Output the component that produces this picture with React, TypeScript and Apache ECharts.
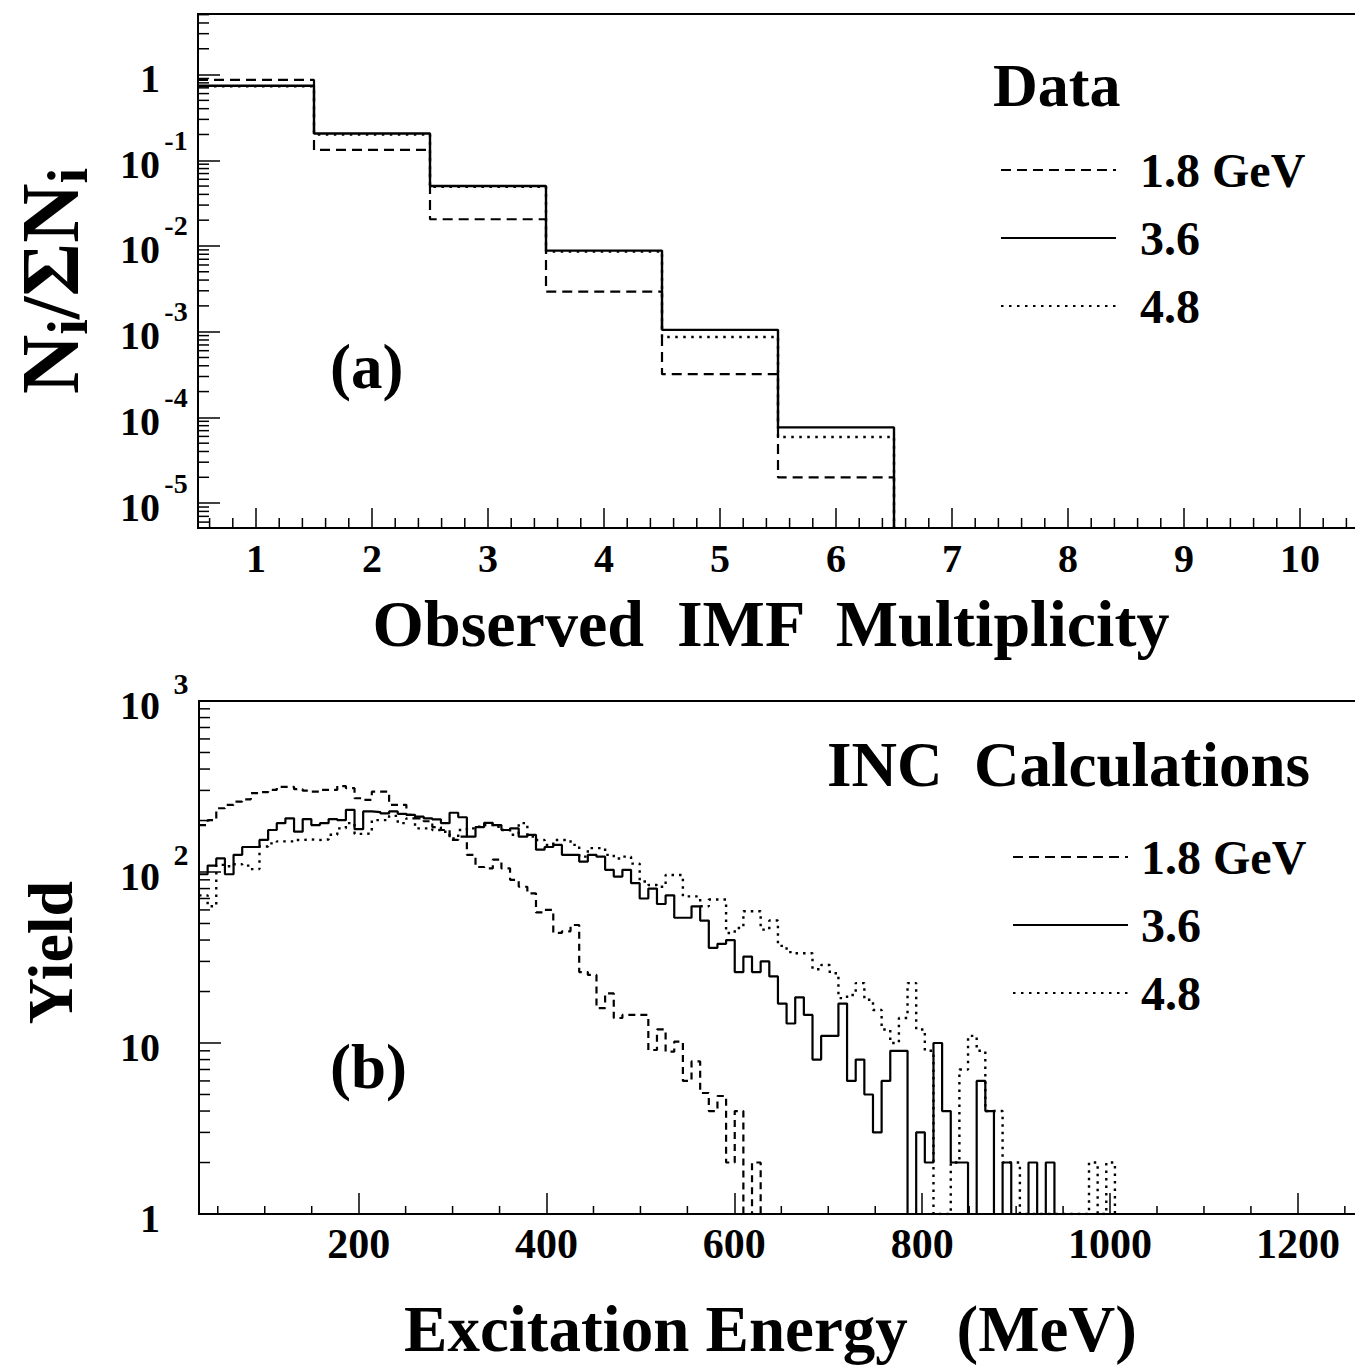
import React, { useEffect, useRef } from "react";
import * as echarts from "echarts";

const FONT = '"Liberation Serif", "Times New Roman", serif';

// ---------------- Panel (a): observed IMF multiplicity (data) ----------------
const imfMultiplicity = [1, 2, 3, 4, 5, 6, 7, 8, 9, 10];
const dataFrac18 = [0.866, 0.132, 0.0205, 0.00293, 3.19e-4, 2.0e-5, 0, 0, 0, 0];
const dataFrac36 = [0.74, 0.205, 0.05, 0.00883, 0.00105, 7.64e-5, 0, 0, 0, 0];
const dataFrac48 = [0.73, 0.2, 0.049, 0.0086, 8.66e-4, 5.9e-5, 0, 0, 0, 0];

// ---------------- Panel (b): INC calculations, excitation energy ----------------
const energyBinLow = 30; // MeV, lower edge of first bin
const energyBinWidth = 9.2; // MeV
const incYield18 = [
  188, 201, 236, 247, 258, 266, 289, 293, 302, 315,
  315, 305, 299, 295, 302, 302, 318, 309, 270, 264,
  295, 295, 247, 247, 216, 206, 198, 183, 176, 154,
  161, 126, 107, 105, 118, 105, 90, 82, 75, 58,
  60, 44, 45, 49, 26, 25, 16, 19.5, 14, 14.6,
  14.6, 14.6, 9.1, 12, 8.9, 10.2, 6, 7.8, 5.1, 4,
  4.9, 2, 4, 0, 2, 0, 0, 0, 0, 0,
  0, 0, 0, 0, 0, 0, 0, 0, 0, 0,
  0, 0, 0, 0, 0, 0, 0, 0, 0, 0,
  0, 0, 0, 0, 0, 0, 0, 0, 0, 0,
  0, 0, 0, 0, 0, 0,
];
const incYield36 = [
  97, 109, 120, 97, 126, 140, 140, 154, 176, 193,
  206, 172, 204, 188, 193, 204, 201, 231, 178, 226,
  224, 220, 226, 219, 216, 211, 206, 203, 193, 222,
  209, 161, 183, 194, 188, 176, 180, 161, 165, 135,
  140, 144, 126, 126, 115, 126, 123, 103, 94, 103,
  86, 70, 80, 65, 73, 54, 54, 63, 52, 36,
  38, 40, 26, 32, 26, 30, 24.5, 17, 13, 18.5,
  14.6, 8, 11, 11, 17, 6, 8, 5, 3, 6,
  9, 9, 0, 3, 2, 10, 4, 2, 2, 0,
  6, 4, 0, 2, 0, 0, 2, 0, 2, 0,
  0, 0, 0, 0, 0, 0,
];
const incYield48 = [
  73, 63, 110, 108, 111, 109, 104, 141, 147, 151,
  151, 154, 155, 154, 155, 165, 180, 193, 167, 168,
  201, 201, 213, 193, 206, 180, 180, 176, 172, 157,
  176, 180, 184, 188, 184, 176, 165, 193, 161, 154,
  144, 154, 154, 144, 123, 138, 138, 126, 120, 123,
  112, 88, 84, 82, 96, 96, 72, 72, 63, 69,
  69, 44, 47, 59, 59, 46, 52, 37, 34, 33.5,
  33.5, 27, 28.6, 25.6, 18.3, 19.1, 22.4, 17.9, 15.6, 12,
  10, 14, 22.4, 12, 9, 0, 0, 2, 7, 11,
  9, 4, 4, 2, 2, 0, 0, 0, 0, 0,
  0, 0, 0, 2, 0, 2,
];

const seriesNames = ["1.8 GeV", "3.6", "4.8"];

// axis ranges
const A_XMIN = 0.5;
const A_XMAX = 10.5;
const A_YMIN = 5.12e-6;
const A_YMAX = 5.09;
const B_XMIN = 30;
const B_XMAX = 1264;
const B_YMIN = 1;
const B_YMAX = 1000;

function stepPoints(lows: number[], width: number, vals: number[], floor: number) {
  let last = -1;
  vals.forEach((v, i) => {
    if (v > 0) last = i;
  });
  const pts: number[][] = [];
  for (let i = 0; i <= last; i++) {
    const y = vals[i] > 0 ? vals[i] : floor;
    pts.push([lows[i], y], [lows[i] + width, y]);
  }
  if (last >= 0) pts.push([lows[last] + width, floor]);
  return pts;
}

const imfLows = imfMultiplicity.map((m) => m - 0.5);
const energyLows = incYield36.map((_, i) => energyBinLow + i * energyBinWidth);

const txt = (size: number) => ({
  fontFamily: FONT,
  fontWeight: "bold" as const,
  fontSize: size,
  color: "#000",
});

// minor tick positions (axis decoration)
function logMinor(min: number, max: number) {
  const out: number[] = [];
  for (let e = -7; e <= 3; e++) {
    for (let m = 2; m <= 9; m++) {
      const v = m * Math.pow(10, e);
      if (v > min && v < max) out.push(v);
    }
  }
  return out;
}
const aXMinor: number[] = [];
for (let k = 3; k <= 52; k++) if (k % 5 !== 0) aXMinor.push(Math.round(k * 2) / 10);
const bXMinor: number[] = [];
for (let v = 50; v < B_XMAX; v += 50) if (v % 200 !== 0) bXMinor.push(v);

function tickSeries(
  xIdx: number,
  yIdx: number,
  values: number[],
  axis: "x" | "y",
  anchor: number,
  len: number
) {
  return {
    type: "custom",
    xAxisIndex: xIdx,
    yAxisIndex: yIdx,
    silent: true,
    clip: false,
    z: 5,
    data: values.map((v) => (axis === "x" ? [v, anchor] : [anchor, v])),
    renderItem: (_p: any, api: any) => {
      const p = api.coord([api.value(0), api.value(1)]);
      return {
        type: "line",
        shape:
          axis === "x"
            ? { x1: p[0], y1: p[1], x2: p[0], y2: p[1] - len }
            : { x1: p[0], y1: p[1], x2: p[0] + len, y2: p[1] },
        style: { stroke: "#000", lineWidth: 1.5 },
      };
    },
  };
}

function isPow10(v: number) {
  const l = Math.log10(v);
  return Math.abs(l - Math.round(l)) < 1e-6;
}

const labelA = (v: number) => {
  if (!isPow10(v)) return "";
  const e = Math.round(Math.log10(v));
  if (e === 0) return "{b|1}{p|}{h|}";
  return "{b|10}{e|" + e + "}{h|}";
};
const labelB = (v: number) => {
  if (!isPow10(v)) return "";
  const e = Math.round(Math.log10(v));
  if (e === 0) return "{b|1}{p|}{h|}";
  if (e === 1) return "{b|10}{p|}{h|}";
  return "{b|10}{e|" + e + "}{h|}";
};

const richA = {
  b: { ...txt(40), lineHeight: 40, verticalAlign: "bottom" },
  e: { ...txt(28), lineHeight: 28, verticalAlign: "top", width: 32, align: "left" },
  p: { width: 32 },
  h: { lineHeight: 58 },
};
const richB = {
  b: { ...txt(40), lineHeight: 40, verticalAlign: "bottom" },
  e: { ...txt(30), lineHeight: 30, verticalAlign: "top", width: 22, align: "left", padding: [0, 0, 0, 10] },
  p: { width: 32 },
  h: { lineHeight: 57 },
};

const lineStyles = [
  { color: "#000", width: 2.2, type: [10, 6] },
  { color: "#000", width: 2.4, type: "solid" },
  { color: "#000", width: 2.4, type: [2.5, 5.5] },
];
const lineStylesB = [
  { color: "#000", width: 2.2, type: [7, 5] },
  { color: "#000", width: 2.2, type: "solid" },
  { color: "#000", width: 2.4, type: [2.5, 5] },
];

const axisLineStyle = { show: true, lineStyle: { color: "#000", width: 2 } };

const legendBase = {
  data: seriesNames,
  orient: "vertical",
  itemWidth: 115,
  itemHeight: 20,
  itemGap: 20,
  selectedMode: false,
  itemStyle: { opacity: 0 },
};

const option: any = {
  animation: false,
  backgroundColor: "#fff",
  grid: [
    {
      left: 198, top: 14, width: 1160, height: 514,
      show: true, borderColor: "#000", borderWidth: 2,
      containLabel: false, outerBoundsMode: "none",
    },
    {
      left: 199, top: 701, width: 1159, height: 513,
      show: true, borderColor: "#000", borderWidth: 2,
      containLabel: false, outerBoundsMode: "none",
    },
  ],
  xAxis: [
    {
      gridIndex: 0, type: "value", min: A_XMIN, max: A_XMAX, splitNumber: 10,
      axisLine: axisLineStyle,
      axisTick: { inside: true, length: 20, lineStyle: { color: "#000", width: 1.5 } },
      splitLine: { show: false },
      axisLabel: {
        ...txt(40), margin: 10,
        formatter: (v: number) => (Number.isInteger(v) ? String(v) : ""),
      },
      name: "Observed  IMF  Multiplicity",
      nameLocation: "middle", nameGap: 62,
      nameTextStyle: { ...txt(66), padding: [0, 14, 0, 0] },
    },
    {
      gridIndex: 1, type: "value", min: B_XMIN, max: B_XMAX, splitNumber: 6,
      axisLine: axisLineStyle,
      axisTick: { inside: true, length: 21, lineStyle: { color: "#000", width: 1.5 } },
      splitLine: { show: false },
      axisLabel: {
        ...txt(42), margin: 9,
        formatter: (v: number) => (v % 200 === 0 ? String(v) : ""),
      },
      name: "Excitation Energy   (MeV)",
      nameLocation: "middle", nameGap: 82,
      nameTextStyle: { ...txt(65), padding: [0, 16, 0, 0] },
    },
  ],
  yAxis: [
    {
      gridIndex: 0, type: "log", logBase: 10, min: A_YMIN, max: A_YMAX,
      axisLine: axisLineStyle,
      axisTick: { inside: true, length: 22, lineStyle: { color: "#000", width: 1.5 } },
      splitLine: { show: false },
      axisLabel: { margin: 6, padding: [0, 0, 10, 0], formatter: labelA, rich: richA },
      name: "N{s|i}/ΣN{s|i}",
      nameLocation: "middle", nameRotate: 90, nameGap: 102,
      nameTextStyle: {
        ...txt(82), lineHeight: 92, padding: [0, 20, 0, 0],
        rich: { s: { ...txt(56), lineHeight: 56, verticalAlign: "bottom" } },
      },
    },
    {
      gridIndex: 1, type: "log", logBase: 10, min: B_YMIN, max: B_YMAX,
      axisLine: axisLineStyle,
      axisTick: { inside: true, length: 22, lineStyle: { color: "#000", width: 1.5 } },
      splitLine: { show: false },
      axisLabel: { margin: 7, padding: [0, 0, 9, 0], formatter: labelB, rich: richB },
      name: "Yield",
      nameLocation: "middle", nameRotate: 90, nameGap: 117,
      nameTextStyle: { ...txt(64), padding: [0, 0, 0, 10] },
    },
  ],
  legend: [
    {
      ...legendBase, left: 995, top: 141,
      textStyle: { ...txt(48), lineHeight: 48, padding: [0, 0, 0, 19] },
    },
    {
      ...legendBase, left: 1007, top: 828,
      textStyle: { ...txt(48), lineHeight: 48, padding: [0, 0, 0, 8] },
    },
  ],
  graphic: [
    { type: "text", x: 993, y: 85, style: { text: "Data", ...txt(62), fill: "#000", verticalAlign: "middle" } },
    { type: "text", x: 827, y: 765, style: { text: "INC  Calculations", ...txt(63), fill: "#000", verticalAlign: "middle" } },
    { type: "text", x: 330, y: 367, style: { text: "(a)", ...txt(63), fill: "#000", verticalAlign: "middle" } },
    { type: "text", x: 330, y: 1067, style: { text: "(b)", ...txt(63), fill: "#000", verticalAlign: "middle" } },
  ],
  series: [
    ...[dataFrac18, dataFrac36, dataFrac48].map((vals, k) => ({
      name: seriesNames[k],
      type: "line",
      xAxisIndex: 0,
      yAxisIndex: 0,
      symbol: "none",
      showSymbol: false,
      z: k === 1 ? 4 : 3,
      lineStyle: lineStyles[k],
      data: stepPoints(imfLows, 1, vals, A_YMIN),
    })),
    ...[incYield18, incYield36, incYield48].map((vals, k) => ({
      name: seriesNames[k],
      type: "line",
      xAxisIndex: 1,
      yAxisIndex: 1,
      symbol: "none",
      showSymbol: false,
      z: k === 1 ? 4 : 3,
      lineStyle: lineStylesB[k],
      data: stepPoints(energyLows, energyBinWidth, vals, B_YMIN),
    })),
    tickSeries(0, 0, aXMinor, "x", A_YMIN, 10),
    tickSeries(0, 0, logMinor(A_YMIN, A_YMAX), "y", A_XMIN, 11),
    tickSeries(1, 1, bXMinor, "x", B_YMIN, 8),
    tickSeries(1, 1, logMinor(B_YMIN, B_YMAX), "y", B_XMIN, 11),
  ],
};

export default function App() {
  const ref = useRef<HTMLDivElement>(null);
  useEffect(() => {
    const chart = echarts.init(ref.current!, null, { renderer: "svg" });
    chart.setOption(option);
    return () => chart.dispose();
  }, []);
  return (
    <div
      ref={ref}
      style={{ position: "absolute", left: 0, top: 0, width: 1355, height: 1368, background: "#fff" }}
    />
  );
}
